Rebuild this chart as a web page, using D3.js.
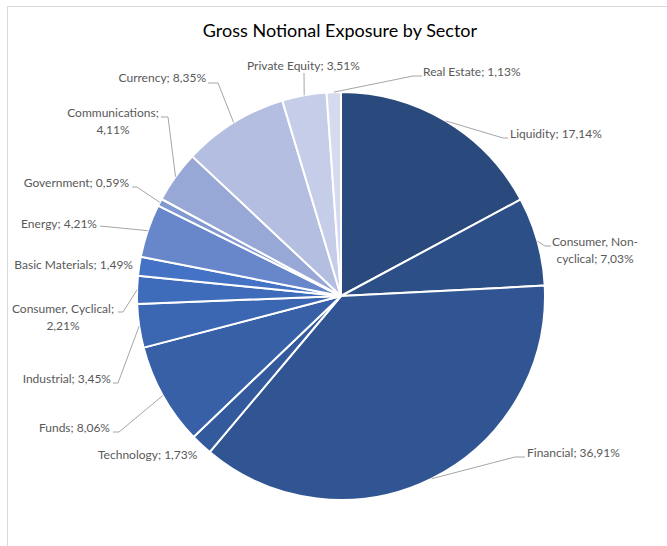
<!DOCTYPE html>
<html>
<head>
<meta charset="utf-8">
<script src="https://cdn.jsdelivr.net/npm/d3@7"></script>
<style>
  body { margin: 0; background: #fff; }
  svg text { font-family: Lato, "Open Sans", sans-serif; }
</style>
</head>
<body>
<div id="pie"></div>
<script>
// data, clockwise from 12 o'clock
var sectors = ["Liquidity", "Consumer, Non-cyclical", "Financial", "Technology", "Funds",
  "Industrial", "Consumer, Cyclical", "Basic Materials", "Energy", "Government",
  "Communications", "Currency", "Private Equity", "Real Estate"];
var shares = [17.14, 7.03, 36.91, 1.73, 8.06, 3.45, 2.21, 1.49, 4.21, 0.59, 4.11, 8.35, 3.51, 1.13];
var labelText = ["17,14%", "7,03%", "36,91%", "1,73%", "8,06%", "3,45%", "2,21%", "1,49%",
  "4,21%", "0,59%", "4,11%", "8,35%", "3,51%", "1,13%"];

var colors = ["#2a4a7d", "#2d4f87", "#305592", "#335a9d", "#3760a7", "#3a66b2", "#3e6cbb",
  "#4472c4", "#6886ca", "#8198d0", "#98a8d6", "#b4bee0", "#c6cde8", "#d5daef"];

// label placement (Excel puts these by hand-ish), lines = text rows
var labelLayout = [
  {x: 510, y: 134, anchor: "start", lines: ["Liquidity; 17,14%"], leader: [[503, 138], [508, 138]]},
  {x: 595, y: 242, anchor: "middle", lines: ["Consumer, Non-", "cyclical; 7,03%"], leader: [[545, 246], [551, 246]]},
  {x: 527, y: 453, anchor: "start", lines: ["Financial; 36,91%"], leader: [[515, 457], [525, 457]]},
  {x: 98, y: 455, anchor: "start", lines: ["Technology; 1,73%"], leader: null},
  {x: 110, y: 428, anchor: "end", lines: ["Funds; 8,06%"], leader: [[119, 432], [113, 432]]},
  {x: 111, y: 379, anchor: "end", lines: ["Industrial; 3,45%"], leader: [[118, 383], [113, 383]]},
  {x: 63, y: 309, anchor: "middle", lines: ["Consumer, Cyclical;", "2,21%"], leader: [[123, 312], [118, 312]]},
  {x: 133, y: 265, anchor: "end", lines: ["Basic Materials; 1,49%"], leader: null},
  {x: 97, y: 224, anchor: "end", lines: ["Energy; 4,21%"], leader: [[100, 226]]},
  {x: 129, y: 183, anchor: "end", lines: ["Government; 0,59%"], leader: [[137, 187], [132, 187]]},
  {x: 113, y: 113, anchor: "middle", lines: ["Communications;", "4,11%"], leader: [[168, 117], [161, 117]]},
  {x: 206, y: 78, anchor: "end", lines: ["Currency; 8,35%"], leader: [[218, 83], [208, 83]]},
  {x: 247, y: 66, anchor: "start", lines: ["Private Equity; 3,51%"], leader: [[304, 73]]},
  {x: 423, y: 72, anchor: "start", lines: ["Real Estate; 1,13%"], leader: [[413, 76], [422, 76]]}
];

var data = sectors.map(function(s, i) {
  return {sector: s, value: shares[i], label: labelText[i], color: colors[i], layout: labelLayout[i]};
});

var width = 667, height = 546;
var cx = 341, cy = 296, radius = 204;

var svg = d3.select("#pie")
  .append("svg")
    .attr("width", width)
    .attr("height", height);

// chart area border (only top and left edges visible in frame)
svg.append("rect")
  .attr("x", 7.5).attr("y", 6.5)
  .attr("width", 700).attr("height", 600)
  .attr("fill", "none")
  .attr("stroke", "#d9d9d9")
  .attr("stroke-width", 1);

svg.append("text")
  .attr("x", 340)
  .attr("y", 37)
  .attr("text-anchor", "middle")
  .style("font-size", "18px")
  .style("fill", "#000")
  .text("Gross Notional Exposure by Sector");

var pie = d3.pie()
  .sort(null)
  .value(function(d) { return d.value; });

var arc = d3.arc().innerRadius(0).outerRadius(radius);
var edgeArc = d3.arc().innerRadius(radius).outerRadius(radius);

var g = svg.append("g")
  .attr("transform", "translate(" + cx + "," + cy + ")");

var arcs = pie(data);

g.selectAll("path.slice")
  .data(arcs)
  .enter()
  .append("path")
    .attr("class", "slice")
    .attr("d", arc)
    .attr("fill", function(d) { return d.data.color; })
    .attr("stroke", "#fff")
    .attr("stroke-width", 2)
    .attr("stroke-linejoin", "round");

// leader lines, from slice edge to the label
svg.selectAll("polyline.leader")
  .data(arcs.filter(function(d) { return d.data.layout.leader; }))
  .enter()
  .append("polyline")
    .attr("class", "leader")
    .attr("points", function(d) {
      var c = edgeArc.centroid(d);
      var pts = [[cx + c[0], cy + c[1]]].concat(d.data.layout.leader);
      return pts.map(function(p) { return p.join(","); }).join(" ");
    })
    .attr("fill", "none")
    .attr("stroke", "#a6a6a6")
    .attr("stroke-width", 1);

// labels
var labels = svg.selectAll("text.lbl")
  .data(data)
  .enter()
  .append("text")
    .attr("class", "lbl")
    .attr("text-anchor", function(d) { return d.layout.anchor; })
    .style("font-size", "12px")
    .style("fill", "#595959");

labels.selectAll("tspan")
  .data(function(d) {
    return d.layout.lines.map(function(t, i) { return {t: t, x: d.layout.x, y: d.layout.y + i * 17}; });
  })
  .enter()
  .append("tspan")
    .attr("x", function(d) { return d.x; })
    .attr("y", function(d) { return d.y; })
    .attr("dy", "0.35em")
    .text(function(d) { return d.t; });
</script>
</body>
</html>
